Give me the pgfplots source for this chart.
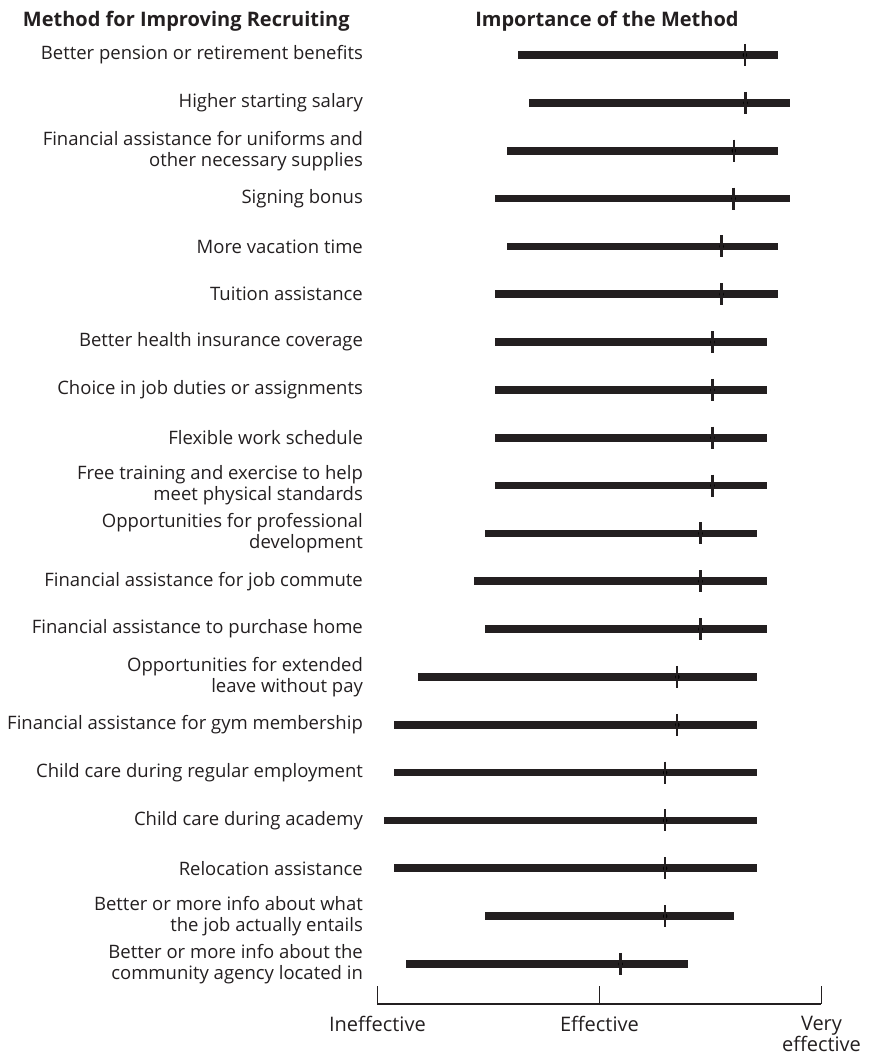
\documentclass[border=0pt]{standalone}
\usepackage{fontspec}
\setmainfont{Open Sans}
\usepackage{pgfplots}
\usepackage{pgfplotstable}
\pgfplotsset{compat=1.18}
\definecolor{ink}{HTML}{231F20}
\pgfplotstableread{
y lo hi mid
20 1.632 2.804 2.655
19 1.685 2.856 2.658
18 1.583 2.802 2.605
17 1.530 2.858 2.604
16 1.583 2.802 2.550
15 1.530 2.804 2.550
14 1.530 2.754 2.509
13 1.530 2.754 2.509
12 1.530 2.754 2.509
11 1.530 2.754 2.509
10 1.486 2.710 2.455
9 1.436 2.754 2.455
8 1.486 2.754 2.455
7 1.182 2.709 2.351
6 1.075 2.709 2.351
5 1.075 2.709 2.296
4 1.032 2.709 2.296
3 1.075 2.709 2.296
2 1.486 2.604 2.296
1 1.129 2.400 2.095
}\datatab
\begin{document}
\begin{tikzpicture}
\begin{axis}[
  scale only axis, width=444.1pt, height=987.1pt,
  xmin=1, xmax=3, ymin=0.166, ymax=20.8,
  axis x line*=bottom, axis y line*=left,
  y axis line style={draw=none},
  x axis line style={line width=2.4pt, color=ink},
  xtick={1,2,3}, xticklabels={Ineffective, Effective, {Very\\effective}},
  xtick style={line width=1.5pt, color=ink},
  major tick length=18pt, tick align=inside,
  ytick={1,...,20},
  yticklabels={
    {Better or more info about the\\community agency located in},
    {Better or more info about what\\the job actually entails},
    {Relocation assistance},
    {Child care during academy},
    {Child care during regular employment},
    {Financial assistance for gym membership},
    {Opportunities for extended\\leave without pay},
    {Financial assistance to purchase home},
    {Financial assistance for job commute},
    {Opportunities for professional\\development},
    {Free training and exercise to help\\meet physical standards},
    {Flexible work schedule},
    {Choice in job duties or assignments},
    {Better health insurance coverage},
    {Tuition assistance},
    {More vacation time},
    {Signing bonus},
    {Financial assistance for uniforms and\\other necessary supplies},
    {Higher starting salary},
    {Better pension or retirement benefits}},
  ytick style={draw=none},
  xticklabel style={align=center, anchor=north, inner sep=0pt, yshift=-12.5pt, font=\fontsize{20}{16.5}\selectfont, text=ink},
  yticklabel style={align=right, anchor=east, inner sep=0pt, xshift=-14.3pt, font=\fontsize{18.5}{21}\selectfont, text=ink},
  clip=false,
]
\addplot[only marks, mark=none, error bars/.cd, x dir=both, x explicit, error mark=none,
  error bar style={line width=7.7pt, color=ink}]
  table[x=mid, y=y, x error plus expr=\thisrow{hi}-\thisrow{mid}, x error minus expr=\thisrow{mid}-\thisrow{lo}] {\datatab};
\addplot[only marks, mark=|, mark size=11pt, mark options={line width=2.2pt, color=ink}]
  table[x=mid, y=y] {\datatab};
\node[anchor=west, inner sep=0pt, font=\bfseries\fontsize{20}{22}\selectfont, text=ink] at (axis cs:-0.597,20.71) {Method for Improving Recruiting};
\node[anchor=west, inner sep=0pt, font=\bfseries\fontsize{20}{22}\selectfont, text=ink] at (axis cs:1.44,20.71) {Importance of the Method};
\coordinate (bbA) at (axis cs:-0.6995,-0.903);
\coordinate (bbB) at (axis cs:3.2104,21.1497);
\end{axis}
\pgfresetboundingbox
\path (bbA) rectangle (bbB);
\end{tikzpicture}
\end{document}
